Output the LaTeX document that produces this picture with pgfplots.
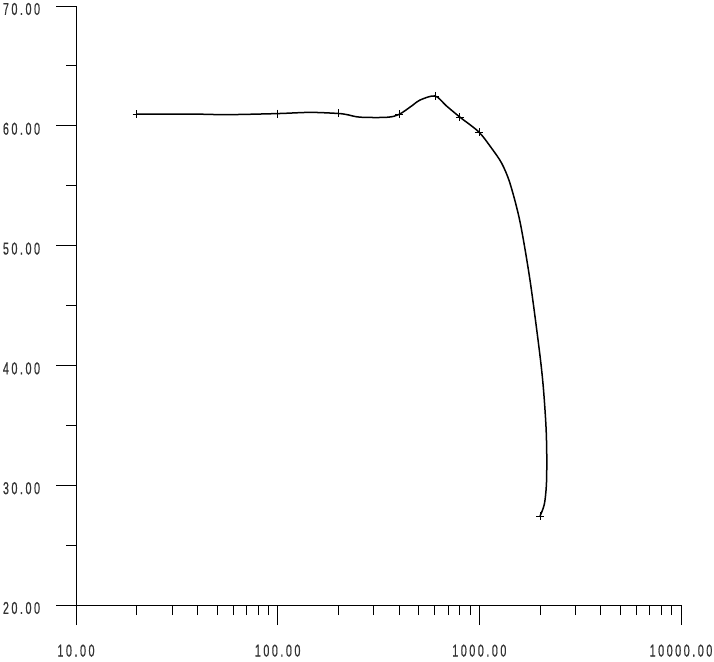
\documentclass[border=0pt]{standalone}
\usepackage{fontspec}
\usepackage{pgfplots}
\pgfplotsset{compat=1.18}
\newfontfamily\tickfont{Liberation Sans}[FakeStretch=0.62,LetterSpace=15,FakeBold=0.6]
\begin{document}
\begin{tikzpicture}
\useasboundingbox (-76pt,-56pt) rectangle (638pt,605pt);
\begin{axis}[
  at={(0pt,0pt)}, anchor=south west,
  scale only axis, width=605pt, height=599pt,
  xmode=log, xmin=10, xmax=10000, ymin=20, ymax=70,
  axis lines*=left,
  tick align=outside,
  major tick length=20pt, minor tick length=10pt,
  xtick={10,100,1000,10000},
  xticklabels={10.00,100.00,1000.00,10000.00},
  ytick={20,30,40,50,60,70},
  yticklabels={20.00,30.00,40.00,50.00,60.00,70.00},
  minor ytick={25,35,45,55,65},
  tick style={black, line width=0.8pt},
  axis line style={black, line width=0.8pt},
  ticklabel style={font=\tickfont\fontsize{17.2}{18}\selectfont, text=black!80},
  yticklabel style={xshift=-12.5pt, yshift=-3pt},
  xticklabel style={yshift=-16pt},
  clip=false,
]
\addplot[smooth, line width=1.5pt, black, no marks] coordinates {
 (20,60.98) (37.6,60.98) (56,60.93) (100,61.02) (145,61.12) (199,61.03)
 (221,60.93) (256,60.72) (348,60.71) (400,60.95) (469,61.74) (508,62.15) (603,62.49)
 (688,61.65) (800,60.73) (995,59.48) (1151,58.12) (1291,56.87) (1419,55.20)
 (1591,51.99) (1783,47.13) (1983,41.29)
 (2075,38.22) (2141,34.88) (2160,32.3) (2150,30.0) (2100,28.4) (2000,27.43)
};
\addplot[only marks, mark=+, mark size=4pt, line width=0.6pt, black] coordinates {
 (20,60.98) (100,61.02) (199,61.03) (400,60.95) (603,62.49) (800,60.73) (995,59.48) (2000,27.43)
};
\end{axis}
\end{tikzpicture}
\end{document}
